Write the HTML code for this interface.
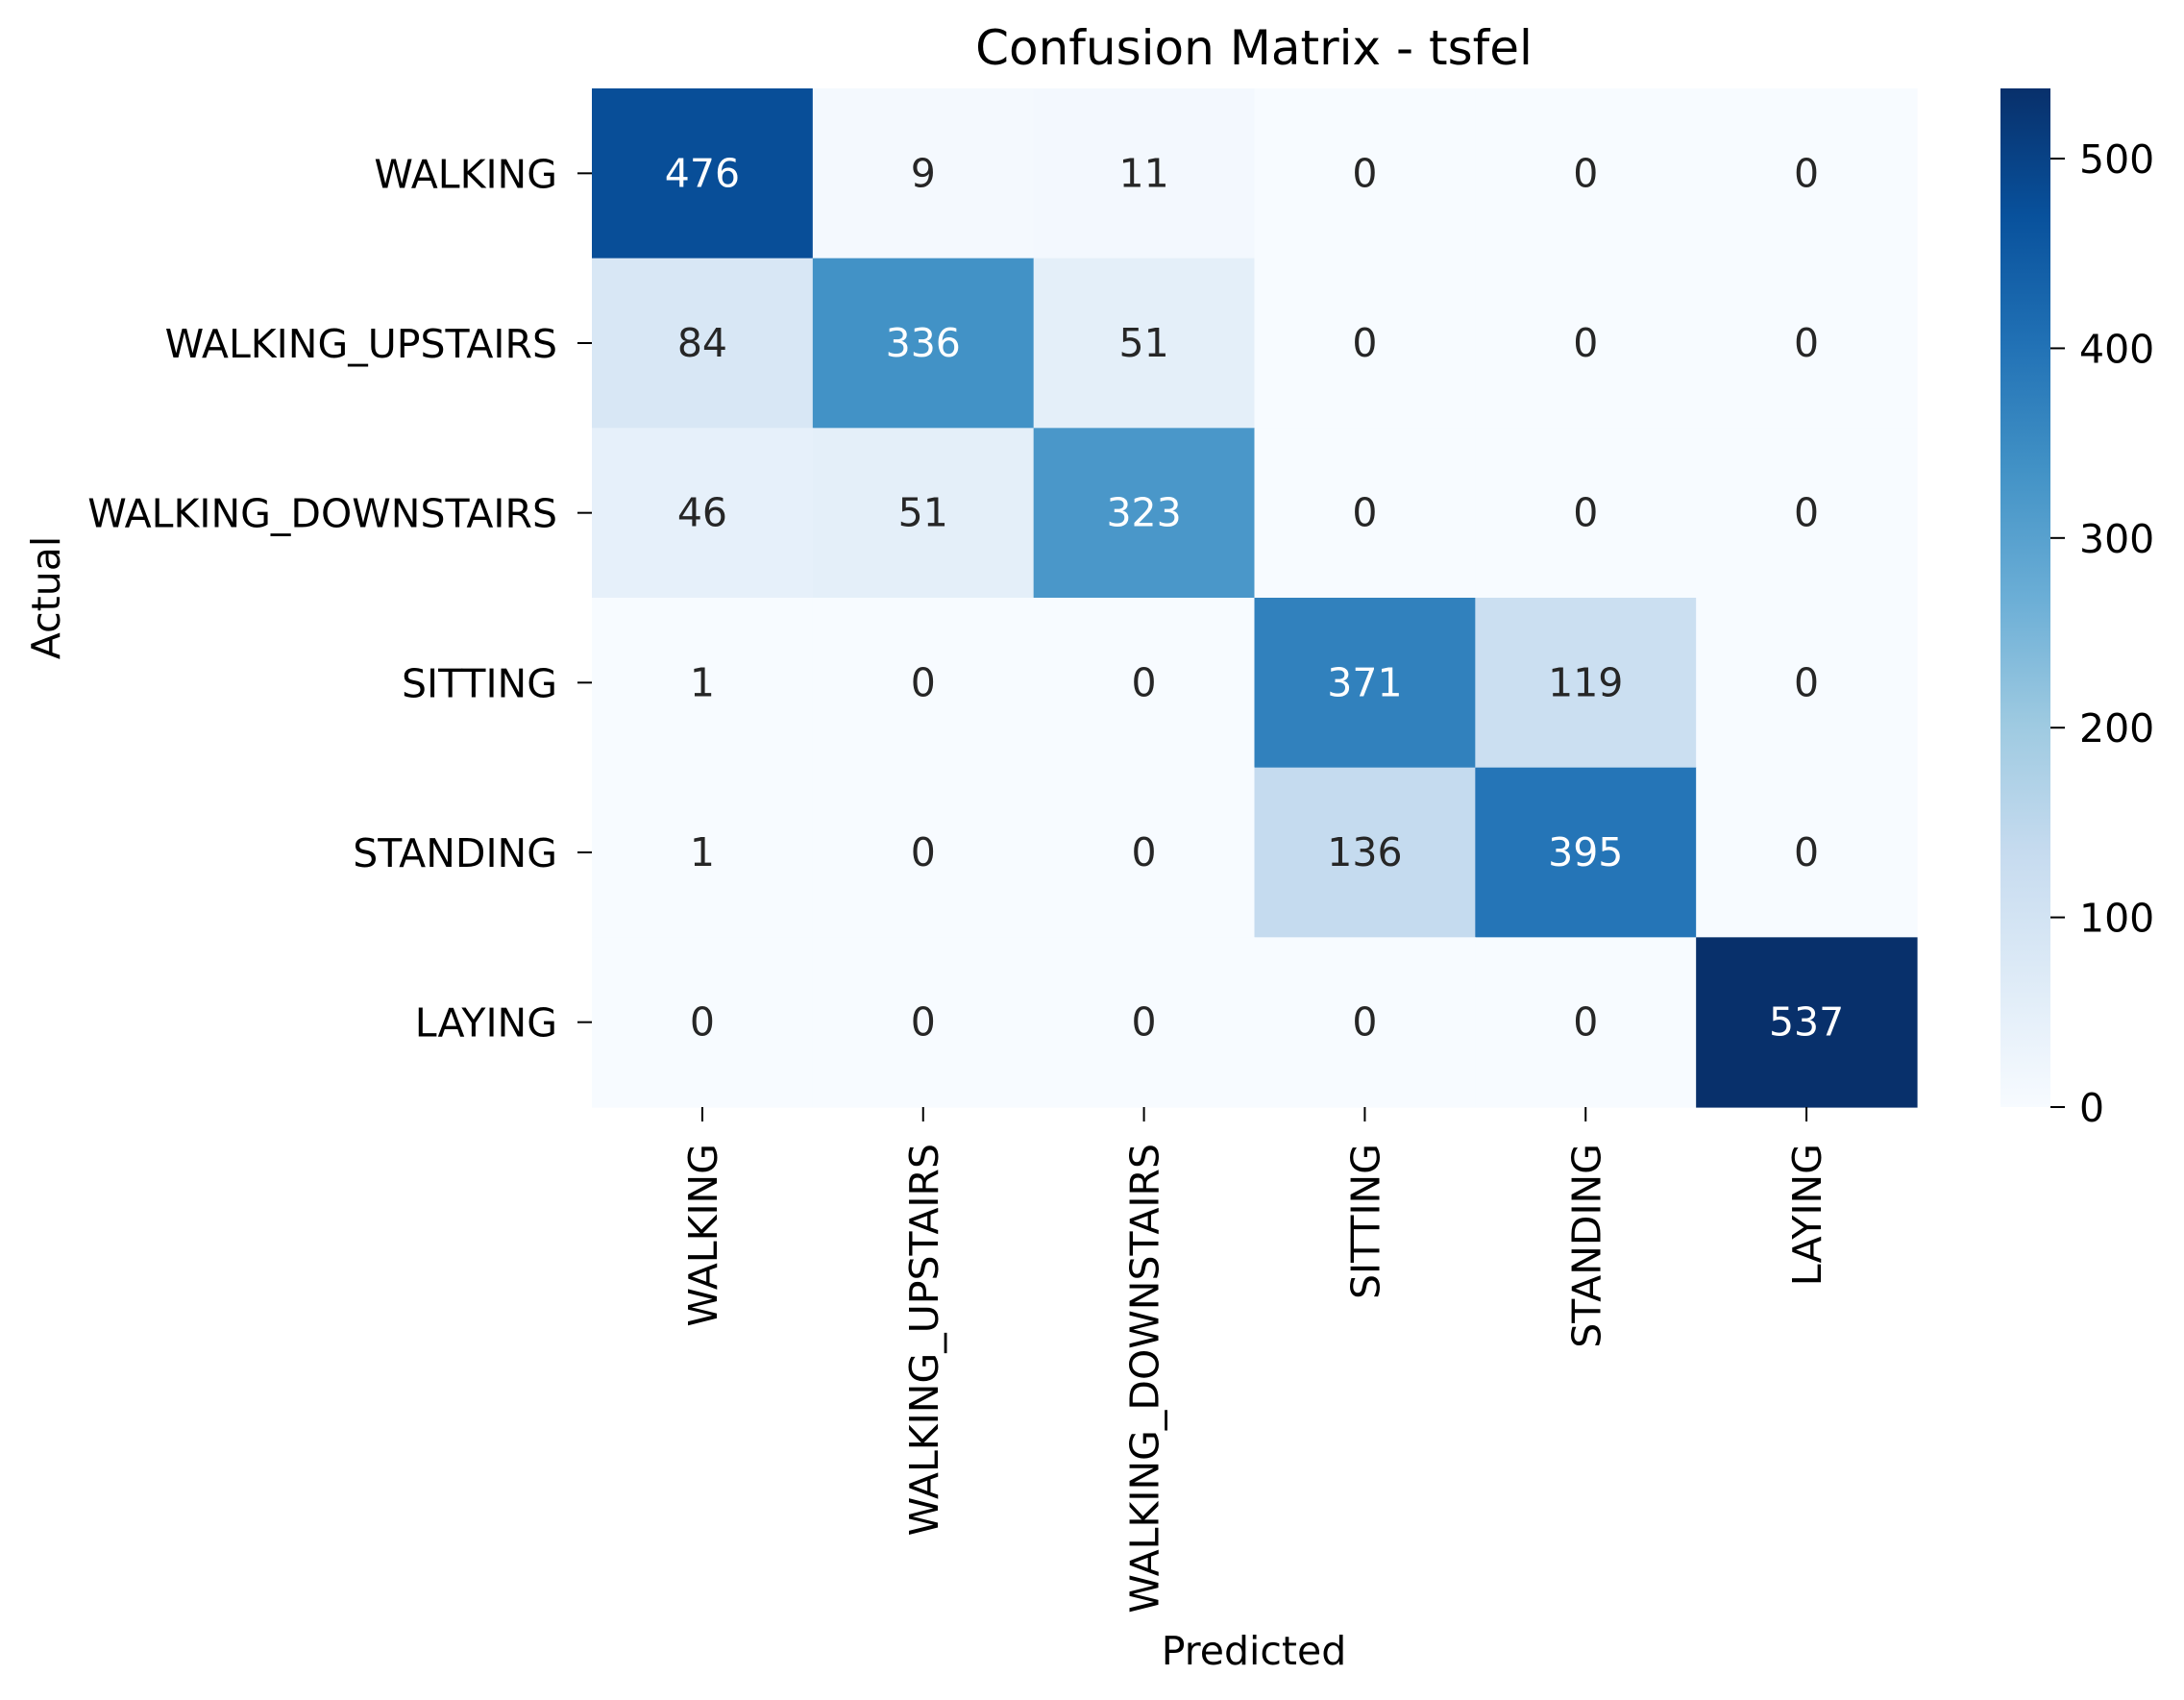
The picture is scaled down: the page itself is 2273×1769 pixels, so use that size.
<!DOCTYPE html>
<html><head><meta charset="utf-8"><style>
html,body{margin:0;padding:0;background:#fff;}
svg{display:block;font-family:"DejaVu Sans","Liberation Sans",sans-serif;}
</style></head><body>
<svg id="chart" width="2273" height="1769" viewBox="0 0 2273 1769" xmlns="http://www.w3.org/2000/svg">
<defs><linearGradient id="cbgrad" x1="0" y1="1" x2="0" y2="0">
<stop offset="0" stop-color="#f7fbff"/><stop offset="0.125" stop-color="#deebf7"/><stop offset="0.25" stop-color="#c6dbef"/><stop offset="0.375" stop-color="#9ecae1"/><stop offset="0.5" stop-color="#6baed6"/><stop offset="0.625" stop-color="#4292c6"/><stop offset="0.75" stop-color="#2171b5"/><stop offset="0.875" stop-color="#08519c"/><stop offset="1" stop-color="#08306b"/>
</linearGradient></defs>
<text x="1305" y="67" font-size="50" text-anchor="middle" fill="#000">Confusion Matrix - tsfel</text>
<text transform="translate(62,622) rotate(-90)" font-size="41" text-anchor="middle" fill="#000">Actual</text>
<text x="1305" y="1732" font-size="41" text-anchor="middle" fill="#000">Predicted</text>
<g id="cells"></g>
<g id="labels"></g>
<rect x="2082" y="92" width="52" height="1060" fill="url(#cbgrad)"/>
<g id="cbticks"></g>
</svg>
<script>
const classes = ["WALKING","WALKING_UPSTAIRS","WALKING_DOWNSTAIRS","SITTING","STANDING","LAYING"];
const row0 = [476,9,11,0,0,0];
const row1 = [84,336,51,0,0,0];
const row2 = [46,51,323,0,0,0];
const row3 = [1,0,0,371,119,0];
const row4 = [1,0,0,136,395,0];
const row5 = [0,0,0,0,0,537];
const matrix = [row0,row1,row2,row3,row4,row5];
const cbTicks = [0,100,200,300,400,500];

const NS = "http://www.w3.org/2000/svg";
const X0 = 616, X1 = 1995, Y0 = 92, Y1 = 1152;
const n = classes.length;
const cw = (X1 - X0) / n, ch = (Y1 - Y0) / n;
let vmax = 0; matrix.forEach(r => r.forEach(v => { if (v > vmax) vmax = v; }));
const xPos = j => X0 + j * cw;
const yPos = i => Y0 + i * ch;
const cbY = v => Y1 - v / vmax * (Y1 - Y0);
const stops = ["#f7fbff","#deebf7","#c6dbef","#9ecae1","#6baed6","#4292c6","#2171b5","#08519c","#08306b"];
function hex(h){return [1,3,5].map(k=>parseInt(h.substr(k,2),16));}
function cmap(t){
  t = Math.max(0, Math.min(1, t)) * (stops.length - 1);
  const k = Math.min(Math.floor(t), stops.length - 2), f = t - k;
  const a = hex(stops[k]), b = hex(stops[k+1]);
  return a.map((c,m)=>Math.round(c + (b[m]-c)*f));
}
function lin(c){c/=255;return c<=0.03928?c/12.92:Math.pow((c+0.055)/1.055,2.4);}
function el(tag, attrs, parent){const e=document.createElementNS(NS,tag);for(const k in attrs)e.setAttribute(k,attrs[k]);parent.appendChild(e);return e;}
const cells = document.getElementById("cells"), labels = document.getElementById("labels"), cbt = document.getElementById("cbticks");
matrix.forEach((r,i)=>r.forEach((v,j)=>{
  const c = cmap(v / vmax);
  const rect = el("rect",{x:xPos(j),y:yPos(i),width:cw+0.6,height:ch+0.6,fill:`rgb(${c[0]},${c[1]},${c[2]})`},cells);
  
  
  const lum = 0.2126*lin(c[0])+0.7152*lin(c[1])+0.0722*lin(c[2]);
  const t = el("text",{x:xPos(j)+cw/2,y:yPos(i)+ch/2+14,"font-size":41,"text-anchor":"middle",fill:lum>0.408?"#262626":"#fff"},cells);
  t.textContent = v;
  
  
}));
classes.forEach((name,i)=>{
  const yc = yPos(i)+ch/2;
  el("line",{x1:X0-15,x2:X0,y1:yc,y2:yc,stroke:"#000","stroke-width":2},labels);
  const t = el("text",{x:X0-36,y:yc+15,"font-size":41,"text-anchor":"end",fill:"#000"},labels);
  t.textContent = name;
  
  
  const xc = xPos(i)+cw/2;
  el("line",{x1:xc,x2:xc,y1:Y1,y2:Y1+15,stroke:"#000","stroke-width":2},labels);
  const u = el("text",{transform:`translate(${xc+15},${Y1+38}) rotate(-90)`,"font-size":41,"text-anchor":"end",fill:"#000"},labels);
  u.textContent = name;
  
  
});
cbTicks.forEach(v=>{
  const y = cbY(v);
  el("line",{x1:2134,x2:2149,y1:y,y2:y,stroke:"#000","stroke-width":2},cbt);
  const t = el("text",{x:2164,y:y+15,"font-size":41,fill:"#000"},cbt);
  t.textContent = v;
  
  
});
</script>
</body></html>
